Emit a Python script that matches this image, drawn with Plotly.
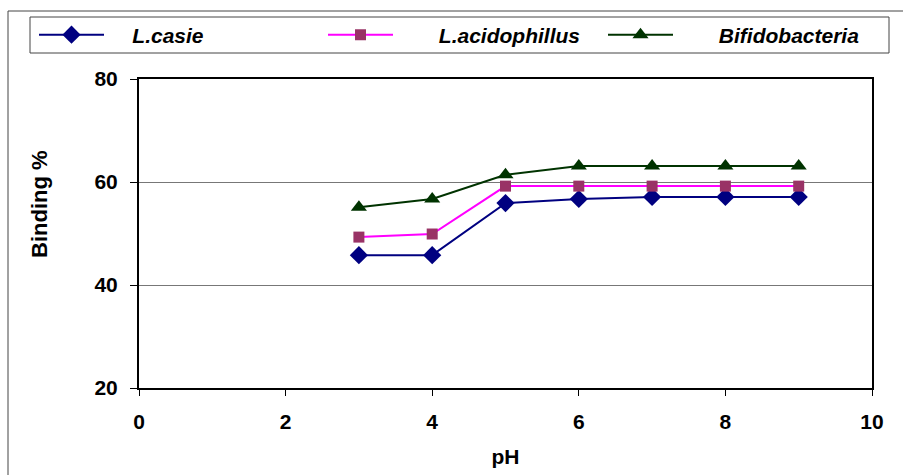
import plotly.graph_objects as go

ph = [3, 4, 5, 6, 7, 8, 9]
casie = [45.8, 45.8, 55.9, 56.7, 57.1, 57.1, 57.1]
acido = [49.3, 49.9, 59.2, 59.2, 59.2, 59.2, 59.2]
bifido = [55.1, 56.7, 61.4, 63.1, 63.1, 63.1, 63.1]
names = ["L.casie", "L.acidophillus", "Bifidobacteria"]
x_ticks = [0, 2, 4, 6, 8, 10]
y_ticks = [20, 40, 60, 80]
x_title = "pH"
y_title = "Binding %"

W, H = 903, 475
L, R, T, B = 139, 31, 79, 87
pw, ph_ = W - L - R, H - T - B

def px2x(p):
    return (p - L) / pw

def py2y(p):
    return (H - B - p) / ph_

FAM = "Liberation Sans, Arial, sans-serif"
FS = 21

def pad(n):
    return "\u00a0" * n

fig = go.Figure()
fig.add_trace(go.Scatter(x=ph, y=casie, name=pad(4) + names[0], mode="lines+markers", legend="legend",
                         line=dict(color="#000080", width=2),
                         marker=dict(symbol="diamond", size=14, color="#000080")))
fig.add_trace(go.Scatter(x=ph, y=acido, name=pad(7) + names[1], mode="lines+markers", legend="legend2",
                         line=dict(color="#FF00FF", width=2),
                         marker=dict(symbol="square", size=11, color="#993366")))
fig.add_trace(go.Scatter(x=ph, y=bifido, name=pad(7) + names[2], mode="lines+markers", legend="legend3",
                         line=dict(color="#003300", width=2),
                         marker=dict(symbol="triangle-up", size=14, color="#003300")))

leg_font = dict(family=FAM, size=FS, color="black", weight="bold", style="italic")

def leg(xpix):
    return dict(orientation="h", x=px2x(xpix), y=py2y(35), xanchor="left", yanchor="middle",
                borderwidth=0, bgcolor="rgba(0,0,0,0)", font=leg_font, itemwidth=65)

fig.update_layout(
    width=W, height=H,
    margin=dict(l=L, r=R, t=T, b=B),
    paper_bgcolor="white", plot_bgcolor="white",
    font=dict(family=FAM, size=FS, color="black"),
    showlegend=True,
    legend=leg(34),
    legend2=leg(323),
    legend3=leg(603),
    xaxis=dict(range=[0, 10], tickvals=x_ticks, ticktext=[str(v) for v in x_ticks],
               automargin=False,
               showgrid=False, zeroline=False, showline=True, linecolor="black", linewidth=2,
               mirror=True, ticks="outside", ticklen=6, tickcolor="black", tickwidth=1,
               tickfont=dict(size=FS, weight="bold"), ticklabelstandoff=8,
               title=dict(text="<b>" + x_title + "</b>", font=dict(size=FS), standoff=17)),
    yaxis=dict(range=[20, 80], tickvals=y_ticks, ticktext=[str(v) for v in y_ticks],
               automargin=False,
               showgrid=True, gridcolor="#777777", gridwidth=1, zeroline=False,
               showline=True, linecolor="black", linewidth=2, mirror=True,
               ticks="outside", ticklen=7, tickcolor="black", tickwidth=1,
               tickfont=dict(size=FS, weight="bold"), ticklabelstandoff=8),
)

fig.add_annotation(text="<b>" + y_title + "</b>", xref="paper", yref="paper",
                   x=px2x(39), y=py2y(204), xanchor="center", yanchor="middle",
                   textangle=-90, showarrow=False, font=dict(family=FAM, size=FS + 1, color="black"))

fig.add_shape(type="rect", xref="paper", yref="paper",
              x0=px2x(8), x1=px2x(910), y0=py2y(480), y1=py2y(11),
              line=dict(color="#444444", width=1), fillcolor="rgba(0,0,0,0)", layer="below")
fig.add_shape(type="rect", xref="paper", yref="paper",
              x0=px2x(30), x1=px2x(889), y0=py2y(53), y1=py2y(17),
              line=dict(color="#444444", width=1), fillcolor="white", layer="below")

fig.write_html("out.html")
